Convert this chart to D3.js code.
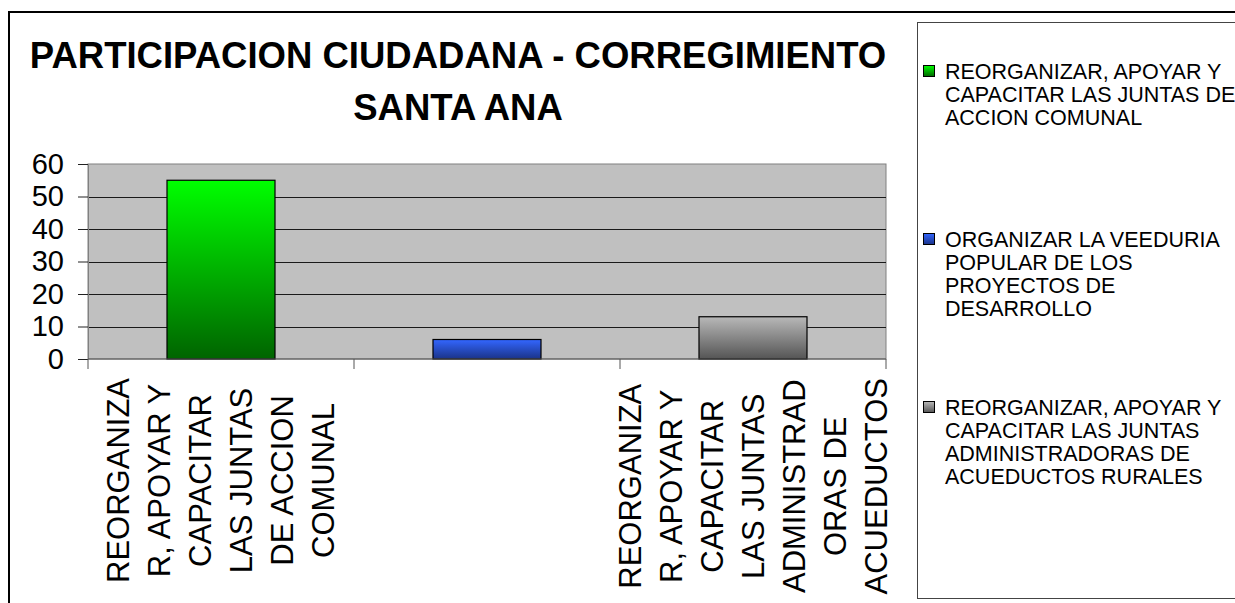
<!DOCTYPE html>
<html>
<head>
<meta charset="utf-8">
<script src="https://cdn.jsdelivr.net/npm/d3@7"></script>
<style>
  html, body { margin: 0; background: #fff; overflow: hidden; }
  svg { display: block; font-family: "Liberation Sans", Arial, sans-serif; }
</style>
</head>
<body>
<div id="chart"></div>
<script>
const categories = [
    "REORGANIZAR, APOYAR Y CAPACITAR LAS JUNTAS DE ACCION COMUNAL",
    "ORGANIZAR LA VEEDURIA POPULAR DE LOS PROYECTOS DE DESARROLLO",
    "REORGANIZAR, APOYAR Y CAPACITAR LAS JUNTAS ADMINISTRADORAS DE ACUEDUCTOS RURALES"
];
const values = [55, 6, 13];
const yTicks = [0, 10, 20, 30, 40, 50, 60];
// category labels as they are wrapped under the axis (middle one is not shown)
const tickLines = [
    ["REORGANIZA", "R, APOYAR Y", "CAPACITAR", "LAS JUNTAS", "DE ACCION", "COMUNAL"],
    [],
    ["REORGANIZA", "R, APOYAR Y", "CAPACITAR", "LAS JUNTAS", "ADMINISTRAD", "ORAS DE", "ACUEDUCTOS"]
];
const legendLines = [
    ["REORGANIZAR, APOYAR Y", "CAPACITAR LAS JUNTAS DE", "ACCION COMUNAL"],
    ["ORGANIZAR LA VEEDURIA", "POPULAR DE LOS", "PROYECTOS DE", "DESARROLLO"],
    ["REORGANIZAR, APOYAR Y", "CAPACITAR LAS JUNTAS", "ADMINISTRADORAS DE", "ACUEDUCTOS RURALES"]
];
const titleLines = ["PARTICIPACION CIUDADANA - CORREGIMIENTO", "SANTA ANA"];

const colors = [
    { top: "#00ff00", bottom: "#006400" },
    { top: "#3366ff", bottom: "#1a3388" },
    { top: "#b8b8b8", bottom: "#555555" }
];

const W = 1235, H = 603;
const plot = { left: 88, right: 886, top: 164, bottom: 359 };

// the chart is wider than the window; the right part is cut off like in the original
const svg = d3.select("#chart").append("svg")
    .attr("width", W + 100)
    .attr("height", H);

const defs = svg.append("defs");
colors.forEach(function (c, i) {
    let g = defs.append("linearGradient")
        .attr("id", "grad" + i)
        .attr("x1", 0).attr("y1", 0).attr("x2", 0).attr("y2", 1);
    g.append("stop").attr("offset", "0%").attr("stop-color", c.top);
    g.append("stop").attr("offset", "100%").attr("stop-color", c.bottom);
});

// outer chart border
svg.append("rect")
    .attr("x", 9).attr("y", 12)
    .attr("width", W + 50).attr("height", H + 20)
    .attr("fill", "#fff")
    .attr("stroke", "#000")
    .attr("stroke-width", 2);

// title
svg.append("g")
    .selectAll("text")
    .data(titleLines)
    .enter()
    .append("text")
    .attr("x", 458)
    .attr("y", function (d, i) { return 68 + i * 52; })
    .attr("text-anchor", "middle")
    .attr("font-weight", "bold")
    .attr("font-size", 36.5)
    .text(function (d) { return d; });

let x = d3.scaleBand()
    .domain(categories)
    .range([plot.left, plot.right])
    .paddingInner(0.594)
    .paddingOuter(0.297);

let y = d3.scaleLinear()
    .domain([0, 60])
    .range([plot.bottom, plot.top]);

// plot background
svg.append("rect")
    .attr("x", plot.left).attr("y", plot.top)
    .attr("width", plot.right - plot.left)
    .attr("height", plot.bottom - plot.top)
    .attr("fill", "#c0c0c0")
    .attr("stroke", "#808080")
    .attr("stroke-width", 1);

// gridlines
svg.append("g")
    .selectAll("line")
    .data(yTicks.filter(function (d) { return d > 0 && d < 60; }))
    .enter()
    .append("line")
    .attr("x1", plot.left).attr("x2", plot.right)
    .attr("y1", function (d) { return Math.round(y(d)) + 0.5; })
    .attr("y2", function (d) { return Math.round(y(d)) + 0.5; })
    .attr("stroke", "#1a1a1a")
    .attr("stroke-width", 1);

// bars
svg.append("g")
    .selectAll("rect")
    .data(values)
    .enter()
    .append("rect")
    .attr("x", function (d, i) { return x(categories[i]); })
    .attr("y", function (d) { return y(d); })
    .attr("width", x.bandwidth())
    .attr("height", function (d) { return y(0) - y(d); })
    .attr("fill", function (d, i) { return "url(#grad" + i + ")"; })
    .attr("stroke", "#000")
    .attr("stroke-width", 1.2);

// y axis
let yAxis = svg.append("g")
    .attr("transform", "translate(" + plot.left + ",0)")
    .call(d3.axisLeft(y).tickValues(yTicks).tickSize(10).tickPadding(14).tickSizeOuter(0));
yAxis.select(".domain").attr("stroke", "#808080");
yAxis.selectAll(".tick line").attr("stroke", "#222");
yAxis.selectAll(".tick text")
    .attr("font-family", "Liberation Sans, Arial, sans-serif")
    .attr("font-size", 29)
    .attr("fill", "#000");

// x axis line and ticks at category boundaries
let step = x.step();
let bounds = categories.map(function (c) { return x(c) - step * x.paddingInner() / 2; });
bounds.push(plot.right);
svg.append("line")
    .attr("x1", plot.left).attr("x2", plot.right)
    .attr("y1", y(0)).attr("y2", y(0))
    .attr("stroke", "#555");
svg.append("g")
    .selectAll("line")
    .data(bounds)
    .enter()
    .append("line")
    .attr("x1", function (d) { return d; })
    .attr("x2", function (d) { return d; })
    .attr("y1", y(0)).attr("y2", y(0) + 10)
    .attr("stroke", "#555");

// rotated category labels
let labelTop = 378, lineGap = 41;
tickLines.forEach(function (lines, i) {
    if (lines.length == 0) return;
    let cx = x(categories[i]) + x.bandwidth() / 2;
    let g = svg.append("g");
    let texts = g.selectAll("text")
        .data(lines)
        .enter()
        .append("text")
        .attr("font-size", 31)
        .attr("text-anchor", "middle")
        .attr("dominant-baseline", "central")
        .text(function (d) { return d; });
    let maxLen = d3.max(texts.nodes(), function (n) { return n.getComputedTextLength(); });
    let cy = labelTop + maxLen / 2;
    texts.attr("transform", function (d, j) {
        let px = cx + (j - (lines.length - 1) / 2) * lineGap;
        return "translate(" + px + "," + cy + ") rotate(-90)";
    });
});

// legend
svg.append("rect")
    .attr("x", 917.5).attr("y", 22.5)
    .attr("width", 380).attr("height", 576)
    .attr("fill", "#fff")
    .attr("stroke", "#444")
    .attr("stroke-width", 1);

let legendTop = 64, legendStep = 168, legendLine = 23;
let items = svg.append("g")
    .selectAll("g")
    .data(legendLines)
    .enter()
    .append("g")
    .attr("transform", function (d, i) { return "translate(0," + (legendTop + i * legendStep) + ")"; });
items.append("rect")
    .attr("x", 923.5).attr("y", 1.5)
    .attr("width", 11).attr("height", 11)
    .attr("fill", function (d, i) { return "url(#grad" + i + ")"; })
    .attr("stroke", "#000");
items.selectAll("text")
    .data(function (d) { return d; })
    .enter()
    .append("text")
    .attr("x", 945)
    .attr("y", function (d, j) { return 15 + j * legendLine; })
    .attr("font-size", 21.5)
    .text(function (d) { return d; });
</script>
</body>
</html>
